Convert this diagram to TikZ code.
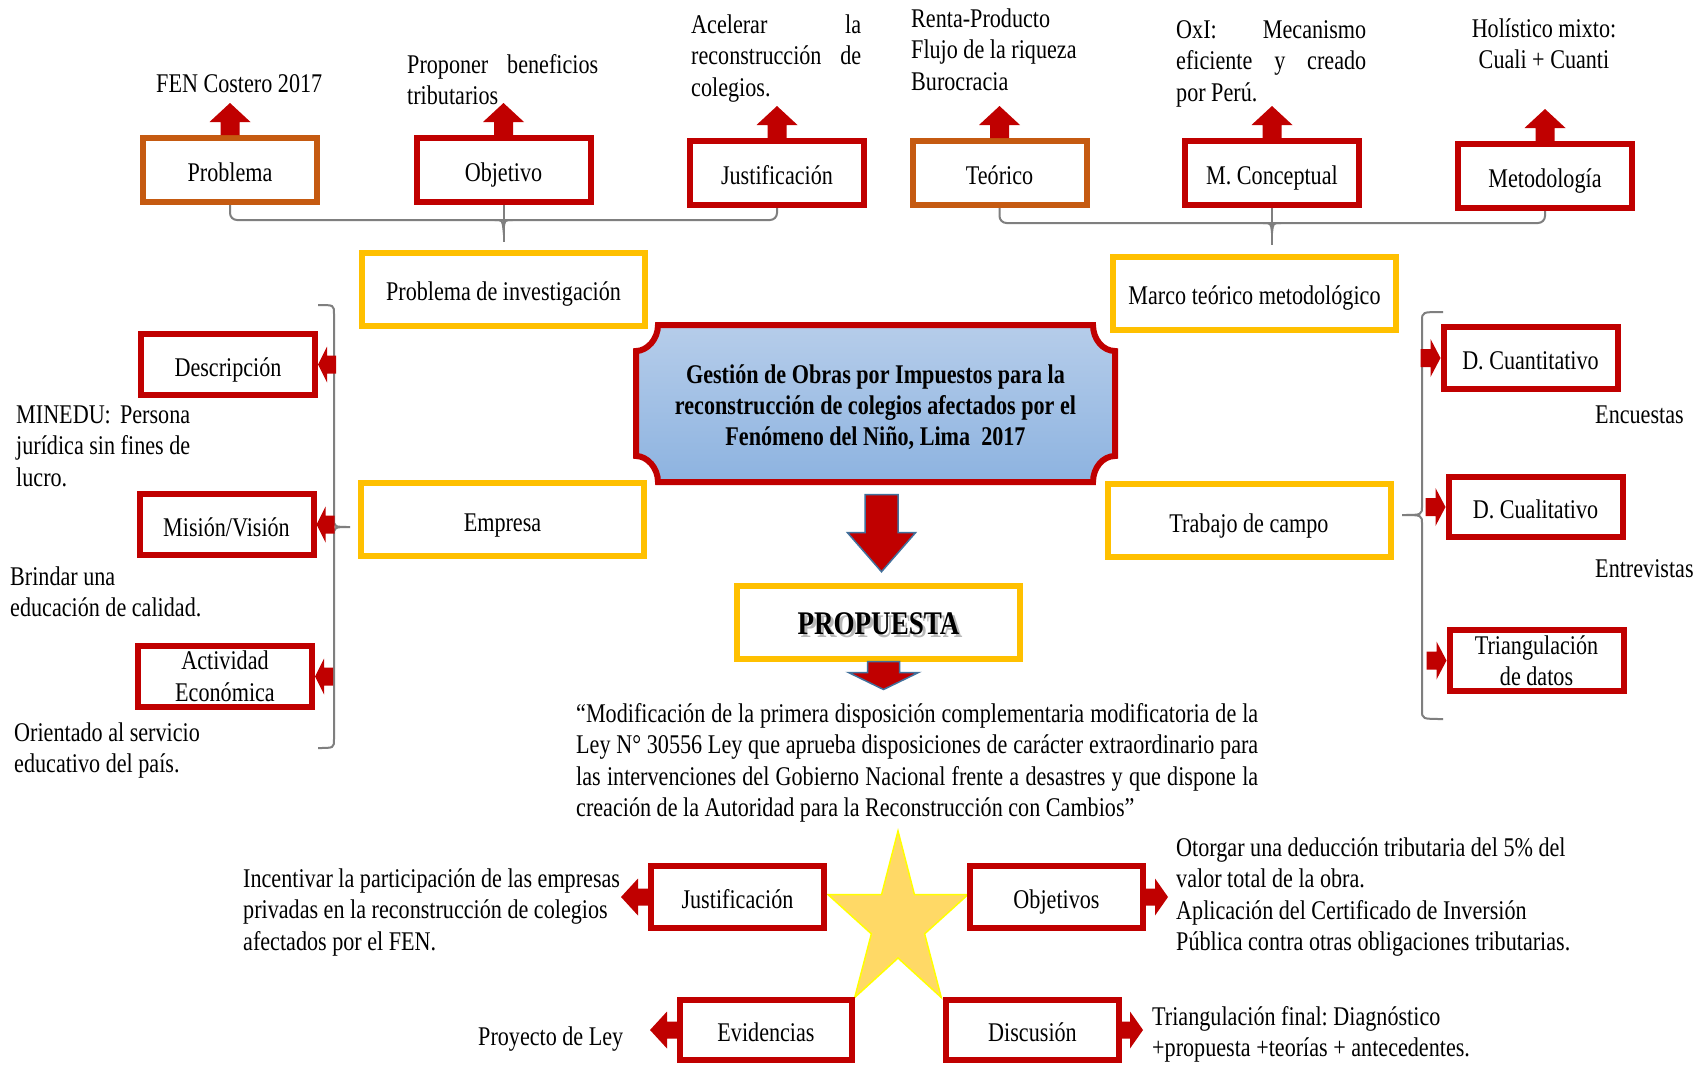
\documentclass[tikz,border=0pt]{standalone}
\usepackage{fontspec}
\setmainfont{Liberation Serif}[FakeStretch=0.82]
\usetikzlibrary{calc}
\frenchspacing

\definecolor{boxred}{HTML}{C00000}
\definecolor{boxorange}{HTML}{C55A11}
\definecolor{boxyellow}{HTML}{FFC000}
\definecolor{bracegray}{HTML}{7F7F7F}
\definecolor{plaquetop}{HTML}{B6CDEA}
\definecolor{plaquebot}{HTML}{8DB3E0}
\definecolor{arrowedge}{HTML}{41719C}
\definecolor{starfill}{HTML}{FFD966}
\definecolor{staredge}{HTML}{FFFF00}

\newcommand{\bodyfont}{\fontsize{27}{31.5}\selectfont}
\newcommand{\jl}[2]{\makebox[#1pt][s]{#2}}

\tikzset{
  txt/.style={font=\bodyfont, inner sep=0pt, align=left, anchor=north west},
  boxbase/.style={draw, line width=6pt, fill=white, font=\bodyfont, inner sep=0pt,
    minimum width=174pt, minimum height=64pt},
  oneline/.style={text height=24pt, text depth=1pt},
  rbox/.style={boxbase, draw=boxred, oneline},
  rboxtwo/.style={boxbase, draw=boxred, align=center},
  obox/.style={boxbase, draw=boxorange, oneline},
  ybox/.style={boxbase, draw=boxyellow, oneline, minimum width=283pt, minimum height=73pt},
  brace/.style={draw=bracegray, line width=2pt},
  pics/barr/.style args={#1/#2/#3/#4}{code={
    \fill[boxred] (0,-#4) -- ({#1-#2},-#4) -- ({#1-#2},-#3) -- (#1,0)
      -- ({#1-#2},#3) -- ({#1-#2},#4) -- (0,#4) -- cycle;}},
  pics/tarr/.style args={#1/#2/#3/#4}{code={
    \fill[boxred] (-#1,-#4) -- (-#2,-#4) -- (-#2,-#3) -- (0,0)
      -- (-#2,#3) -- (-#2,#4) -- (-#1,#4) -- cycle;}},
  pics/bigarr/.style args={#1/#2/#3/#4}{code={
    \filldraw[fill=boxred, draw=arrowedge, line width=1.5pt] (0,-#4) -- ({#1-#2},-#4)
      -- ({#1-#2},-#3) -- (#1,0) -- ({#1-#2},#3) -- ({#1-#2},#4) -- (0,#4) -- cycle;}}
}

\begin{document}
\begin{tikzpicture}[x=1pt, y=-1pt]
\useasboundingbox (0,0) rectangle (1704,1065);
\fill[white] (0,0) rectangle (1704,1065);

% ---------- central plaque ----------
\draw[line width=6pt, draw=boxred, top color=plaquetop, bottom color=plaquebot]
  (658,325) -- (1093,325) .. controls (1093,339.3) and (1102.9,351) .. (1115,351)
  -- (1115,456) .. controls (1102.9,456) and (1093,467.7) .. (1093,482)
  -- (658,482) .. controls (658,467.7) and (647.1,456) .. (636,456)
  -- (636,351) .. controls (647.1,351) and (658,339.3) .. (658,325) -- cycle;
\node[font=\fontsize{27}{31}\selectfont\bfseries, align=center, inner sep=0pt,
      minimum width=485pt, minimum height=163pt] (main) at (875.5,407)
  {Gestión de Obras por Impuestos para la\\ reconstrucción de colegios afectados por el\\ Fenómeno del Niño, Lima\ \ 2017};

% ---------- top row ----------
\node[obox] (t1) at (230,170) {Problema};
\node[rbox] (t2) at (503.5,170) {Objetivo};
\node[rbox] (t3) at (777,173) {Justificación};
\node[obox] (t4) at (999.5,173) {Teórico};
\node[rbox] (t5) at (1272,173) {M. Conceptual};
\node[rbox] (t6) at (1545,176) {Metodología};

% ---------- yellow boxes ----------
\node[ybox] (pinv) at (503.5,289) {Problema de investigación};
\node[ybox] (marco) at (1254.5,293) {Marco teórico metodológico};
\node[ybox] (empresa) at (502.5,519.5) {Empresa};
\node[ybox] (campo) at (1249,520.5) {Trabajo de campo};
\node[ybox] (prop) at (878.5,622) {};
\node[font=\fontsize{33}{38}\selectfont\bfseries, text=black!28, inner sep=0pt]
  at ($(prop.center)+(3,5)$) {PROPUESTA};
\node[font=\fontsize{33}{38}\selectfont\bfseries, inner sep=0pt] (proptext)
  at ($(prop.center)+(0,2)$) {PROPUESTA};

% ---------- left column ----------
\node[rbox, minimum height=61pt] (desc) at (228,364.5) {Descripción};
\node[rbox, minimum height=61pt] (mision) at (226.5,524.5) {Misión/Visión};
\node[rboxtwo, minimum height=61pt] (activ) at (225,676.5) {Actividad\\ Económica};

% ---------- right column ----------
\node[rbox, minimum height=62pt] (dcuant) at (1530.5,358) {D. Cuantitativo};
\node[rbox, minimum height=60pt] (dcual) at (1535.5,507) {D. Cualitativo};
\node[rboxtwo, minimum height=61pt] (triang) at (1536.5,660.5) {Triangulación\\ de datos};

% ---------- star and bottom boxes ----------
\draw[fill=starfill, draw=staredge, line width=1.5pt, shift={(898,923)}, xscale=0.8]
  (-90:92) -- (-54:35) -- (-18:92) -- (18:35) -- (54:92) -- (90:35)
  -- (126:92) -- (162:35) -- (198:92) -- (234:35) -- cycle;
\node[rbox, minimum width=173pt, minimum height=62pt] (bjust) at (737.5,897) {Justificación};
\node[rbox, minimum width=173pt, minimum height=62pt] (bobj) at (1056.5,897) {Objetivos};
\node[rbox, minimum width=172pt, minimum height=60pt] (bevid) at (766,1030) {Evidencias};
\node[rbox, minimum width=173pt, minimum height=60pt] (bdisc) at (1032.5,1030) {Discusión};

% ---------- braces ----------
\draw[brace, rounded corners=7pt] (t1.south) |- ($(t2.south)+(0,15)$) -| (t3.south);
\draw[brace] (t2.south) -- ($(t2.south)+(0,37)$);
\draw[brace] ($(t2.south)+(-9,15)$) .. controls ($(t2.south)+(-1,15)$) .. ($(t2.south)+(0,25)$)
  .. controls ($(t2.south)+(1,15)$) .. ($(t2.south)+(9,15)$);

\draw[brace, rounded corners=7pt] (t4.south) |- ($(t5.south)+(0,15)$) -| (t6.south);
\draw[brace] (t5.south) -- ($(t5.south)+(0,37)$);
\draw[brace] ($(t5.south)+(-9,15)$) .. controls ($(t5.south)+(-1,15)$) .. ($(t5.south)+(0,25)$)
  .. controls ($(t5.south)+(1,15)$) .. ($(t5.south)+(9,15)$);

% left curly bracket, tip towards Empresa
\draw[brace] (318,305) .. controls (334,305) .. (334,314) -- (334,518)
  .. controls (334,527) .. (350,527) .. controls (334,527) .. (334,536)
  -- (334,739) .. controls (334,748) .. (318,748);
% right curly bracket, tip towards Trabajo de campo
\draw[brace] (1443,312) .. controls (1422,312) .. (1422,321) -- (1422,506)
  .. controls (1422,515) .. (1402,515) .. controls (1422,515) .. (1422,524)
  -- (1422,710) .. controls (1422,719) .. (1443,719);

% ---------- block arrows ----------
\foreach \b in {t1,t2,t3,t4,t5,t6}
  \pic[rotate=90] at (\b.north) {barr=32/19/20.5/9.5};

\pic[rotate=180] at (desc.east) {tarr=18/9/18/9};
\pic[rotate=180] at (mision.east) {tarr=18/9/18/9};
\pic[rotate=180] at (activ.east) {tarr=18/9/18/9};

\pic at (dcuant.west) {tarr=20/10/19/9};
\pic at (dcual.west) {tarr=20/10/19/9};
\pic at (triang.west) {tarr=20/10/19/9};

\pic[rotate=-90] at ($(main.south)+(6,6)$) {bigarr=77/39/34/16.5};
\pic[rotate=-90] at ($(prop.south)+(5,0)$) {bigarr=28/17/35/16};

\pic[rotate=180] at (bjust.west) {barr=27/17/18.5/8.5};
\pic at (bobj.east) {barr=22/13/18.5/8.5};
\pic[rotate=180] at (bevid.west) {barr=27/17/18.5/8.5};
\pic at (bdisc.east) {barr=21/13/18.5/8.5};

% ---------- free texts ----------
\node[txt] (fen) at (156,70) {\strut FEN Costero 2017};
\node[txt] (prop1) at (407,51) {\strut\jl{191}{Proponer beneficios}\\ tributarios};
\node[txt] (acel) at (691,11) {\strut\jl{170}{Acelerar la}\\ \jl{170}{reconstrucción de}\\ colegios.};
\node[txt] (renta) at (911,5) {\strut Renta-Producto\\ Flujo de la riqueza\\ Burocracia};
\node[txt] (oxi) at (1176,16) {\strut\jl{190}{OxI: Mecanismo}\\ \jl{190}{eficiente y creado}\\ por Perú.};
\node[txt, anchor=north, align=center] (holis) at (1544,15) {\strut Holístico mixto:\\ Cuali + Cuanti};

\node[txt] (minedu) at (16,401) {\strut\jl{174}{MINEDU:\ \ Persona}\\ \jl{174}{jurídica sin fines de}\\ lucro.};
\node[txt] (brindar) at (10,563) {\strut Brindar una\\ educación de calidad.};
\node[txt] (orient) at (14,719) {\strut Orientado al servicio\\ educativo del país.};

\node[txt] (encu) at (1595,401) {\strut Encuestas};
\node[txt] (entre) at (1595,555) {\strut Entrevistas};

\node[txt] (quote) at (576,700) {\strut\jl{682}{“Modificación de la primera disposición complementaria modificatoria de la}\\
  \jl{682}{Ley N° 30556 Ley que aprueba disposiciones de carácter extraordinario para}\\
  \jl{682}{las intervenciones del Gobierno Nacional frente a desastres y que dispone la}\\
  creación de la Autoridad para la Reconstrucción con Cambios”};

\node[txt] (incent) at (243,865) {\strut Incentivar la participación de las empresas\\ privadas en la reconstrucción de colegios\\ afectados por el FEN.};
\node[txt] (otorg) at (1176,834) {\strut Otorgar una deducción tributaria del 5\% del\\ valor total de la obra.\\ Aplicación del Certificado de Inversión\\ Pública contra otras obligaciones tributarias.};
\node[txt] (ley) at (478,1023) {\strut Proyecto de Ley};
\node[txt] (trifin) at (1152,1003) {\strut Triangulación final: Diagnóstico\\ +propuesta +teorías + antecedentes.};
\end{tikzpicture}
\end{document}
